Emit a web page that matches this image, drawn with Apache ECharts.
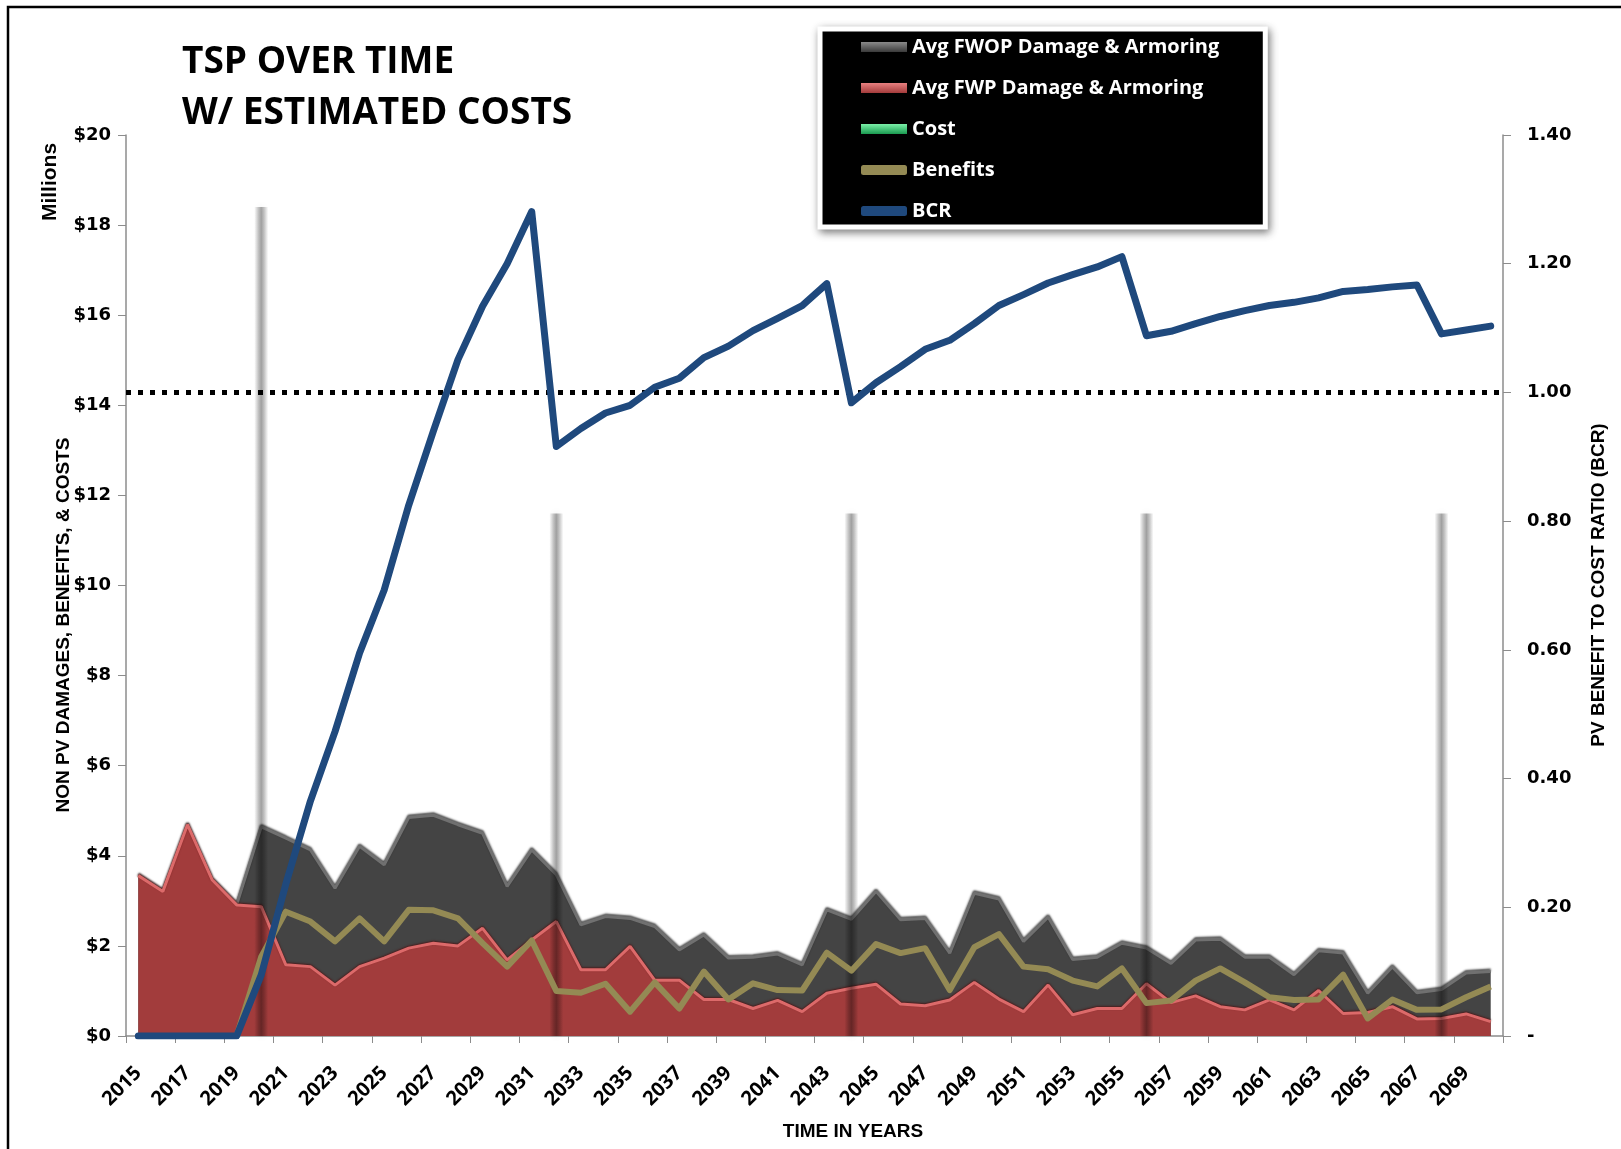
<!DOCTYPE html>
<html>
<head>
<meta charset="utf-8">
<title>TSP over time with estimated costs</title>
<script src="https://cdn.jsdelivr.net/npm/echarts@6/dist/echarts.min.js"></script>
<style>
  html, body { margin: 0; padding: 0; background: #fff; }
  #chart { width: 1621px; height: 1149px; }
</style>
</head>
<body>
<div id="chart"></div>
<script>
// Years on the horizontal axis
const years = [];
for (let y = 2015; y <= 2070; y++) years.push(String(y));

// Average future-without-project damage & armoring ($M, non PV)
const fwopDamage = [
  3.56, 3.21, 4.69, 3.47, 2.91, 4.64, 4.39, 4.13, 3.28, 4.21,
  3.80, 4.85, 4.90, 4.69, 4.50, 3.32, 4.13, 3.58, 2.47, 2.65,
  2.61, 2.43, 1.91, 2.24, 1.73, 1.75, 1.82, 1.58, 2.80, 2.59,
  3.21, 2.58, 2.61, 1.84, 3.17, 3.04, 2.10, 2.64, 1.70, 1.75,
  2.06, 1.95, 1.61, 2.13, 2.15, 1.75, 1.75, 1.36, 1.89, 1.84,
  0.95, 1.53, 0.96, 1.03, 1.40, 1.43
];

// Average future-with-project damage & armoring ($M, non PV)
const fwpDamage = [
  3.56, 3.21, 4.69, 3.47, 2.91, 2.87, 1.58, 1.54, 1.13, 1.54,
  1.73, 1.95, 2.06, 2.00, 2.39, 1.69, 2.13, 2.54, 1.47, 1.47,
  1.99, 1.24, 1.24, 0.81, 0.81, 0.61, 0.79, 0.54, 0.95, 1.06,
  1.15, 0.71, 0.67, 0.80, 1.19, 0.82, 0.54, 1.13, 0.47, 0.61,
  0.61, 1.16, 0.74, 0.89, 0.65, 0.58, 0.80, 0.58, 1.01, 0.50,
  0.52, 0.65, 0.38, 0.39, 0.49, 0.32
];

// Project cost ($M), incurred at construction / renourishment years
const cost = [
  null, null, null, null, null, 18.4, null, null, null, null,
  null, null, null, null, null, null, null, 11.6, null, null,
  null, null, null, null, null, null, null, null, null, 11.6,
  null, null, null, null, null, null, null, null, null, null,
  null, 11.6, null, null, null, null, null, null, null, null,
  null, null, null, 11.6, null, null
];

// Benefits ($M, non PV)
const benefits = [
  0, 0, 0, 0, 0, 1.76, 2.76, 2.54, 2.10, 2.61,
  2.10, 2.80, 2.79, 2.61, 2.06, 1.54, 2.12, 1.00, 0.96, 1.16,
  0.54, 1.19, 0.61, 1.43, 0.81, 1.17, 1.02, 1.01, 1.85, 1.45,
  2.04, 1.84, 1.95, 1.02, 1.97, 2.26, 1.54, 1.48, 1.23, 1.10,
  1.50, 0.73, 0.79, 1.23, 1.50, 1.19, 0.86, 0.80, 0.81, 1.36,
  0.39, 0.81, 0.58, 0.59, 0.86, 1.10
];

// Cumulative PV benefit-to-cost ratio
const bcr = [
  0, 0, 0, 0, 0, 0.095, 0.236, 0.365, 0.473, 0.595,
  0.693, 0.825, 0.940, 1.051, 1.134, 1.200, 1.281, 0.916, 0.944, 0.968,
  0.980, 1.008, 1.022, 1.054, 1.072, 1.096, 1.115, 1.135, 1.169, 0.984,
  1.015, 1.040, 1.067, 1.081, 1.107, 1.135, 1.152, 1.170, 1.183, 1.195,
  1.211, 1.088, 1.095, 1.107, 1.118, 1.127, 1.135, 1.140, 1.147, 1.157,
  1.160, 1.164, 1.167, 1.091, 1.097, 1.103
];

const breakEvenBCR = 1.0;

const chart = echarts.init(document.getElementById('chart'), null, { renderer: 'canvas' });

const boldSans = 'DejaVu Sans';
const narrow = '"Liberation Sans Narrow", "Liberation Sans", sans-serif';
const titleFont = '"Open Sans", sans-serif';

chart.setOption({
  animation: false,
  backgroundColor: '#fff',
  title: {
    text: 'TSP OVER TIME\nW/ ESTIMATED COSTS',
    left: 177,
    top: 32,
    textStyle: {
      fontFamily: titleFont,
      fontWeight: 'bold',
      fontSize: 37,
      lineHeight: 51,
      color: '#000'
    }
  },
  graphic: [
    // outer frame
    {
      type: 'rect', silent: true, z: -10,
      shape: { x: 8, y: 7, width: 1700, height: 1300 },
      style: { fill: null, stroke: '#000', lineWidth: 2.5 }
    },
    {
      type: 'text', silent: true,
      x: 50, y: 182, rotation: Math.PI / 2,
      style: { text: 'Millions', font: 'bold 21px ' + narrow, fill: '#000', align: 'center', verticalAlign: 'middle' }
    },
    {
      type: 'text', silent: true,
      x: 64, y: 625, rotation: Math.PI / 2,
      style: { text: 'NON PV DAMAGES, BENEFITS, & COSTS', font: 'bold 19px ' + narrow, fill: '#000', align: 'center', verticalAlign: 'middle' }
    },
    {
      type: 'text', silent: true,
      x: 1599, y: 585, rotation: Math.PI / 2,
      style: { text: 'PV BENEFIT TO COST RATIO (BCR)', font: 'bold 19px ' + narrow, fill: '#000', align: 'center', verticalAlign: 'middle' }
    },
    {
      type: 'text', silent: true,
      x: 853, y: 1132,
      style: { text: 'TIME IN YEARS', font: 'bold 19px ' + narrow, fill: '#000', align: 'center', verticalAlign: 'middle' }
    }
  ],
  legend: {
    orient: 'vertical',
    left: 820,
    top: 29,
    padding: [8, 46, 6, 41],
    itemGap: 21,
    itemWidth: 46,
    itemHeight: 10,
    backgroundColor: '#000',
    borderColor: '#fff',
    borderWidth: 5,
    shadowBlur: 8,
    shadowColor: 'rgba(0,0,0,0.45)',
    shadowOffsetX: 2,
    shadowOffsetY: 3,
    textStyle: { color: '#fff', fontFamily: titleFont, fontWeight: 'bold', fontSize: 20 },
    data: [
      { name: 'Avg FWOP Damage & Armoring', icon: 'rect',
        itemStyle: { color: { type: 'linear', x: 0, y: 0, x2: 0, y2: 1, colorStops: [{ offset: 0, color: '#8a8a8a' }, { offset: 1, color: '#3a3a3a' }] }, borderWidth: 0 } },
      { name: 'Avg FWP Damage & Armoring', icon: 'rect',
        itemStyle: { color: { type: 'linear', x: 0, y: 0, x2: 0, y2: 1, colorStops: [{ offset: 0, color: '#e88080' }, { offset: 1, color: '#a33b3b' }] }, borderWidth: 0 } },
      { name: 'Cost', icon: 'rect',
        itemStyle: { color: { type: 'linear', x: 0, y: 0, x2: 0, y2: 1, colorStops: [{ offset: 0, color: '#7af0a8' }, { offset: 1, color: '#1a9a50' }] }, borderWidth: 0, shadowBlur: 0 } },
      { name: 'Benefits', icon: 'roundRect', itemStyle: { color: '#948a54', borderWidth: 0 } },
      { name: 'BCR', icon: 'roundRect', itemStyle: { color: '#1f497d', borderWidth: 0 } }
    ]
  },
  grid: { left: 126, right: 118, top: 135, bottom: 113, containLabel: false },
  xAxis: {
    type: 'category',
    data: years,
    boundaryGap: true,
    axisLine: { lineStyle: { color: '#8c8c8c', width: 1.5 } },
    axisTick: { show: true, length: 7, lineStyle: { color: '#8c8c8c' } },
    axisLabel: {
      interval: 1,
      rotate: 45,
      margin: 34,
      fontFamily: titleFont,
      fontWeight: 'bold',
      fontSize: 20,
      color: '#000'
    },
    splitLine: { show: false }
  },
  yAxis: [
    {
      type: 'value',
      min: 0, max: 20, interval: 2,
      position: 'left',
      axisLine: { show: true, lineStyle: { color: '#8c8c8c', width: 1.5 } },
      axisTick: { show: true, length: 8, lineStyle: { color: '#8c8c8c' } },
      axisLabel: {
        margin: 15,
        fontFamily: boldSans, fontWeight: 'bold', fontSize: 18, color: '#000',
        formatter: v => '$' + v
      },
      splitLine: { show: false }
    },
    {
      type: 'value',
      min: 0, max: 1.4, interval: 0.2,
      position: 'right',
      axisLine: { show: true, lineStyle: { color: '#8c8c8c', width: 1.5 } },
      axisTick: { show: true, length: 8, lineStyle: { color: '#8c8c8c' } },
      axisLabel: {
        margin: 24,
        fontFamily: boldSans, fontWeight: 'bold', fontSize: 18, color: '#000',
        formatter: v => (v === 0 ? '-' : v.toFixed(2))
      },
      splitLine: { show: false }
    }
  ],
  series: [
    {
      name: 'Avg FWOP Damage & Armoring',
      type: 'line',
      data: fwopDamage,
      yAxisIndex: 0,
      symbol: 'none',
      z: 1,
      color: '#444',
      lineStyle: { color: '#707070', width: 3, shadowColor: 'rgba(0,0,0,0.7)', shadowBlur: 2, shadowOffsetY: -1.5 },
      areaStyle: { color: '#444', opacity: 1 }
    },
    {
      name: 'Avg FWP Damage & Armoring',
      type: 'line',
      data: fwpDamage,
      yAxisIndex: 0,
      symbol: 'none',
      z: 2,
      color: '#a33b3b',
      lineStyle: { color: '#dc6a6a', width: 3, shadowColor: 'rgba(80,0,0,0.6)', shadowBlur: 2, shadowOffsetY: -1 },
      areaStyle: { color: '#a23c3c', opacity: 1 }
    },
    {
      name: 'Cost',
      type: 'bar',
      data: cost,
      yAxisIndex: 0,
      barWidth: 14,
      z: 3,
      itemStyle: {
        color: {
          type: 'linear', x: 0, y: 0, x2: 1, y2: 0,
          colorStops: [
            { offset: 0, color: 'rgba(0,0,0,0)' },
            { offset: 0.3, color: 'rgba(0,0,0,0.22)' },
            { offset: 0.5, color: 'rgba(0,0,0,0.34)' },
            { offset: 0.7, color: 'rgba(0,0,0,0.22)' },
            { offset: 1, color: 'rgba(0,0,0,0)' }
          ]
        },
        shadowBlur: 6,
        shadowColor: 'rgba(0,0,0,0.15)'
      }
    },
    {
      name: 'Benefits',
      type: 'line',
      data: benefits,
      yAxisIndex: 0,
      symbol: 'none',
      z: 4,
      color: '#948a54',
      lineStyle: { color: '#948a54', width: 6, join: 'round' }
    },
    {
      name: 'BCR',
      type: 'line',
      data: bcr,
      yAxisIndex: 1,
      symbol: 'none',
      z: 5,
      color: '#1f497d',
      lineStyle: { color: '#1f497d', width: 7, join: 'round', cap: 'round' },
      markLine: {
        silent: true,
        symbol: 'none',
        label: { show: false },
        lineStyle: { color: '#000', width: 5, type: [5, 7], cap: 'butt' },
        data: [{ yAxis: breakEvenBCR }]
      }
    }
  ]
});
</script>
</body>
</html>
